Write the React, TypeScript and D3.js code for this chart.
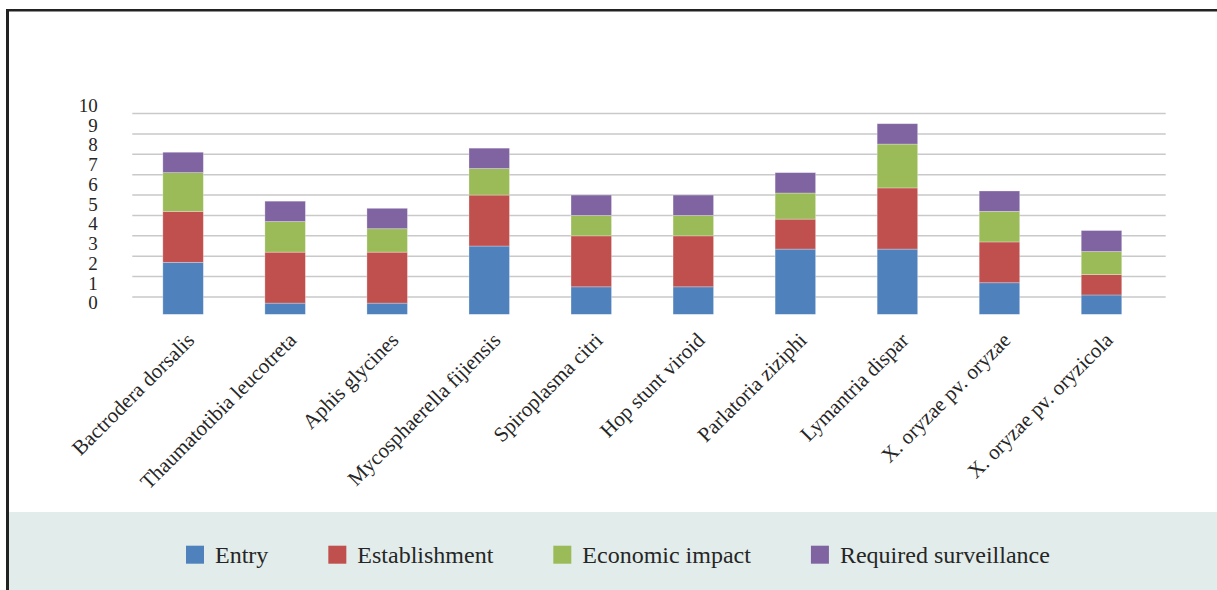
import React, { useEffect, useRef } from 'react';
import * as d3 from 'd3';

const categories = [
  'Bactrodera dorsalis',
  'Thaumatotibia leucotreta',
  'Aphis glycines',
  'Mycosphaerella fijiensis',
  'Spiroplasma citri',
  'Hop stunt viroid',
  'Parlatoria ziziphi',
  'Lymantria dispar',
  'X. oryzae pv. oryzae',
  'X. oryzae pv. oryzicola',
];
const entry = [2.7, 0.7, 0.7, 3.5, 1.5, 1.5, 3.35, 3.35, 1.7, 1.1];
const establishment = [2.5, 2.5, 2.5, 2.5, 2.5, 2.5, 1.47, 3.0, 2.0, 1.0];
const economicImpact = [1.9, 1.5, 1.15, 1.3, 1.0, 1.0, 1.28, 2.15, 1.5, 1.13];
const requiredSurveillance = [1.0, 1.0, 1.0, 1.0, 1.0, 1.0, 1.0, 1.0, 1.0, 1.03];
const seriesNames = ['Entry', 'Establishment', 'Economic impact', 'Required surveillance'];
const seriesColors = ['#4f81bd', '#c0504d', '#9bbb59', '#8064a2'];
const yTickLabels = [0, 1, 2, 3, 4, 5, 6, 7, 8, 9, 10];
const gridValues = [1, 2, 3, 4, 5, 6, 7, 8, 9, 10];

const W = 1217;
const H = 590;
const FONT = '"Liberation Serif", "Times New Roman", serif';

export default function App() {
  const ref = useRef<SVGSVGElement | null>(null);

  useEffect(() => {
    document.body.style.margin = '0';
    const svg = d3.select(ref.current);
    svg.selectAll('*').remove();

    // frame
    svg.append('rect').attr('x', 0).attr('y', 0).attr('width', W).attr('height', H).attr('fill', '#fff');
    svg.append('rect').attr('x', 8).attr('y', 512).attr('width', W - 8).attr('height', H - 512).attr('fill', '#e2edeb');
    svg.append('line').attr('x1', 7.5).attr('x2', 7.5).attr('y1', 9).attr('y2', H).attr('stroke', '#222').attr('stroke-width', 3);
    svg.append('line').attr('x1', 6).attr('x2', W).attr('y1', 10.3).attr('y2', 10.3).attr('stroke', '#222').attr('stroke-width', 2.6);

    const rows = categories.map((c, i) => ({
      category: c,
      Entry: entry[i],
      Establishment: establishment[i],
      'Economic impact': economicImpact[i],
      'Required surveillance': requiredSurveillance[i],
    }));

    const x = d3
      .scaleBand<string>()
      .domain(categories)
      .range([132.3, 1165.7])
      .paddingInner(0.603)
      .paddingOuter(0.365)
      .align(0.41);
    const y = d3.scaleLinear().domain([0, 10]).range([317.4, 113.5]);
    const yLab = d3.scaleLinear().domain([0, 10]).range([302.8, 105.3]);
    const color = d3.scaleOrdinal<string, string>().domain(seriesNames).range(seriesColors);

    // gridlines
    svg
      .append('g')
      .selectAll('line')
      .data(gridValues)
      .join('line')
      .attr('x1', 132.3)
      .attr('x2', 1165.7)
      .attr('y1', (d) => y(d))
      .attr('y2', (d) => y(d))
      .attr('stroke', '#c9c9c9')
      .attr('stroke-width', 1.5);

    // y labels
    svg
      .append('g')
      .selectAll('text')
      .data(yTickLabels)
      .join('text')
      .attr('x', 97.7)
      .attr('y', (d) => yLab(d))
      .attr('dy', '0.35em')
      .attr('text-anchor', 'end')
      .attr('font-family', FONT)
      .attr('font-size', 19)
      .attr('fill', '#262626')
      .text((d) => String(d));

    // bars
    svg
      .append('clipPath')
      .attr('id', 'plotclip')
      .append('rect')
      .attr('x', 0)
      .attr('y', 0)
      .attr('width', W)
      .attr('height', 314.3);

    const stacked = d3.stack<any>().keys(seriesNames)(rows);
    const gBars = svg.append('g').attr('clip-path', 'url(#plotclip)');
    stacked.forEach((layer) => {
      gBars
        .append('g')
        .attr('fill', color(layer.key))
        .selectAll('rect')
        .data(layer)
        .join('rect')
        .attr('x', (d: any) => x(d.data.category)!)
        .attr('width', x.bandwidth())
        .attr('y', (d: any) => y(d[1]))
        .attr('height', (d: any) => y(d[0]) - y(d[1]))
        .attr('stroke', 'rgba(255,255,255,0.35)')
        .attr('stroke-width', 0.8);
    });

    // x labels
    svg
      .append('g')
      .selectAll('text')
      .data(categories)
      .join('text')
      .attr('transform', (d) => `translate(${x(d)! + x.bandwidth() / 2 + 12.5},341.5) rotate(-45)`)
      .attr('text-anchor', 'end')
      .attr('font-family', FONT)
      .attr('font-size', 21)
      .attr('fill', '#262626')
      .text((d) => d);

    // legend
    const leg = svg.append('g');
    let cx = 186;
    seriesNames.forEach((name) => {
      leg
        .append('rect')
        .attr('x', cx)
        .attr('y', 545.7)
        .attr('width', 18)
        .attr('height', 18)
        .attr('fill', color(name));
      const t = leg
        .append('text')
        .attr('x', cx + 29)
        .attr('y', 563)
        .attr('font-family', FONT)
        .attr('font-size', 24)
        .attr('fill', '#262626')
        .text(name);
      const w = (t.node() as SVGTextElement).getComputedTextLength();
      cx = cx + 29 + w + 60;
    });
  }, []);

  return <svg ref={ref} width={W} height={H} style={{ display: 'block' }} />;
}
